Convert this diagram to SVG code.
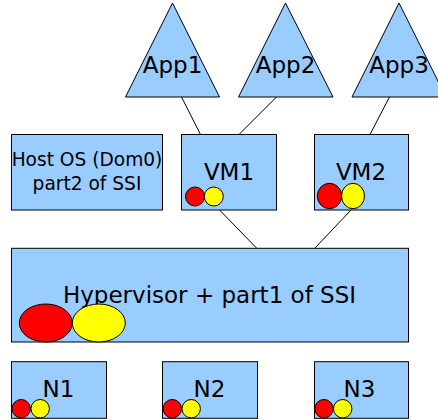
<svg xmlns="http://www.w3.org/2000/svg" width="438" height="420" viewBox="0 0 438 420">
<style>
.s{fill:#99ccff;stroke:#000;stroke-width:1}
.r{fill:#ff0000;stroke:#000;stroke-width:1}
.y{fill:#ffff00;stroke:#000;stroke-width:1}
.t{font-family:"DejaVu Sans",sans-serif;font-size:23px;fill:#000;text-anchor:middle}
.t2{font-family:"DejaVu Sans",sans-serif;font-size:18.6px;fill:#000;text-anchor:middle}
.c{stroke:#000;stroke-width:1;fill:none}
</style>
<rect width="438" height="420" fill="#fff"/>
<g id="connectors">
<line class="c" x1="181.5" y1="97" x2="200.5" y2="134.5"/>
<line class="c" x1="276.5" y1="97" x2="239" y2="134.5"/>
<line class="c" x1="389.5" y1="97" x2="370" y2="134.5"/>
<line class="c" x1="219.5" y1="210" x2="256.5" y2="248"/>
<line class="c" x1="351" y1="210" x2="315" y2="248"/>
</g>
<g id="app1"><polygon class="s" points="172.5,3 219.5,97 125.5,97"/><text class="t" x="172.5" y="73">App1</text></g>
<g id="app2"><polygon class="s" points="285.5,3 333,97 238.5,97"/><text class="t" x="285.5" y="73">App2</text></g>
<g id="app3"><polygon class="s" points="399,3 446,97 352,97"/><text class="t" x="399" y="73">App3</text></g>
<g id="hostos"><rect class="s" x="11.5" y="134.5" width="151" height="75.5"/><text class="t2" x="87" y="166">Host OS (Dom0)</text><text class="t2" x="87" y="190">part2 of SSI</text></g>
<g id="vm1"><rect class="s" x="181.5" y="134.5" width="95" height="75.5"/><text class="t" x="229" y="180">VM1</text><circle class="r" cx="195" cy="196.5" r="9.5"/><circle class="y" cx="213.8" cy="196.5" r="9.5"/></g>
<g id="vm2"><rect class="s" x="314.5" y="134.5" width="94" height="75.5"/><text class="t" x="361" y="180">VM2</text><ellipse class="r" cx="329.5" cy="196" rx="12.2" ry="12.7"/><ellipse class="y" cx="353" cy="196" rx="11.5" ry="12.7"/></g>
<g id="hypervisor"><rect class="s" x="11.5" y="248.3" width="397" height="93.7"/><text class="t" x="209.5" y="303">Hypervisor + part1 of SSI</text><ellipse class="r" cx="45.8" cy="323" rx="26.5" ry="19"/><ellipse class="y" cx="98.8" cy="323" rx="26.5" ry="19"/></g>
<g id="n1"><rect class="s" x="11.5" y="361.7" width="95" height="56.6"/><text class="t" x="58.5" y="397">N1</text><circle class="r" cx="21.2" cy="408.7" r="9.2"/><circle class="y" cx="40.2" cy="408.7" r="9.2"/></g>
<g id="n2"><rect class="s" x="162.5" y="361.7" width="95" height="56.6"/><text class="t" x="209.5" y="397">N2</text><circle class="r" cx="172.3" cy="408.7" r="9.2"/><circle class="y" cx="191.2" cy="408.7" r="9.2"/></g>
<g id="n3"><rect class="s" x="314.5" y="361.7" width="94" height="56.6"/><text class="t" x="359.5" y="397">N3</text><circle class="r" cx="324" cy="408.7" r="9.2"/><circle class="y" cx="342.7" cy="408.7" r="9.2"/></g>
</svg>
